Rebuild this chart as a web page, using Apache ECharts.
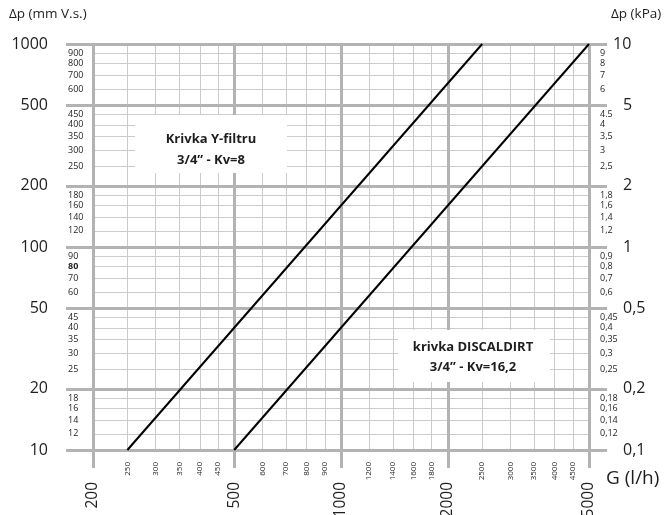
<!DOCTYPE html>
<html><head><meta charset="utf-8">
<script src="https://cdn.jsdelivr.net/npm/echarts@6/dist/echarts.min.js"></script>
<style>html,body{margin:0;padding:0;background:#fff}#c{width:670px;height:515px}</style>
</head><body><div id="c"></div>
<script>
// ---- data ----
const xMajor = [200, 500, 1000, 2000, 5000];
const xMinor = [250, 300, 350, 400, 450, 600, 700, 800, 900, 1200, 1400, 1600, 1800, 2500, 3000, 3500, 4000, 4500];
const yMajor = [10, 20, 50, 100, 200, 500, 1000];
const yMinor = [12, 14, 16, 18, 25, 30, 35, 40, 45, 60, 70, 80, 90, 120, 140, 160, 180, 250, 300, 350, 400, 450, 600, 700, 800, 900];
const kpaMajorLabels = ['0,1', '0,2', '0,5', '1', '2', '5', '10'];
const kpaMinorLabels = ['0,12', '0,14', '0,16', '0,18', '0,25', '0,3', '0,35', '0,4', '0,45', '0,6', '0,7', '0,8', '0,9', '1,2', '1,4', '1,6', '1,8', '2,5', '3', '3,5', '4', '4.5', '6', '7', '8', '9'];
const yFiltru = [[250, 10], [2500, 1000]];
const discaldirt = [[500, 10], [5000, 1000]];

// ---- styling ----
const FF = '"Open Sans", "Noto Sans", sans-serif';
const TXT = '#1e1e1e';
const THICK = '#b3b3b3';
const THIN = '#cbcbcb';
const key = v => Math.round(v * 100) / 100;
const kpaMajorMap = {}; yMajor.forEach((v, i) => kpaMajorMap[key(v)] = kpaMajorLabels[i]);
const kpaMinorMap = {}; yMinor.forEach((v, i) => kpaMinorMap[key(v)] = kpaMinorLabels[i]);
const topMajor = yMajor[yMajor.length - 1];
const yMajorRight = yMajor.filter(v => v !== topMajor);

const G = { left: 93, right: 81, top: 44, bottom: 65, containLabel: false, outerBoundsMode: 'none' };
const logX = { type: 'log', logBase: 10, min: 200, max: 5000 };
const logY = { type: 'log', logBase: 10, min: 10, max: 1000 };
const intFmt = v => String(Math.round(v));

const chart = echarts.init(document.getElementById('c'), null, { renderer: 'canvas' });
chart.setOption({
  animation: false,
  backgroundColor: '#fff',
  grid: [Object.assign({}, G), Object.assign({}, G), Object.assign({}, G)],
  xAxis: [
    Object.assign({}, logX, {
      gridIndex: 0, position: 'bottom', z: 1,
      axisLine: { show: false },
      axisTick: { show: false, customValues: xMinor },
      axisLabel: { customValues: xMinor, rotate: 90, fontSize: 8, margin: 12, color: TXT, fontFamily: FF, formatter: intFmt },
      splitLine: { show: true, lineStyle: { color: THIN, width: 1 } }
    }),
    Object.assign({}, logX, {
      gridIndex: 1, position: 'bottom', z: 2,
      axisLine: { show: false },
      axisTick: { show: true, customValues: xMajor, length: 18, lineStyle: { color: THICK, width: 3 } },
      axisLabel: { customValues: xMajor, rotate: 90, fontSize: 15.5, margin: 32, color: TXT, fontFamily: FF, formatter: intFmt },
      splitLine: { show: true, lineStyle: { color: THICK, width: 3 } }
    }),
    Object.assign({}, logX, {
      gridIndex: 2, position: 'bottom', show: false
    })
  ],
  yAxis: [
    Object.assign({}, logY, {
      gridIndex: 0, position: 'left', z: 1,
      axisLine: { show: false },
      axisTick: { show: false, customValues: yMinor },
      axisLabel: {
        customValues: yMinor, align: 'left', margin: 25, fontSize: 9, color: TXT, fontFamily: FF,
        formatter: v => key(v) === 80 ? '{b|80}' : String(key(v)),
        rich: { b: { fontWeight: 'bold', fontSize: 9, color: TXT, fontFamily: FF } }
      },
      splitLine: { show: true, lineStyle: { color: THIN, width: 1 } }
    }),
    Object.assign({}, logY, {
      gridIndex: 0, position: 'right', z: 1,
      axisLine: { show: false },
      axisTick: { show: false, customValues: yMinor },
      axisLabel: {
        customValues: yMinor, align: 'left', margin: 11, fontSize: 9, color: TXT, fontFamily: FF,
        formatter: v => kpaMinorMap[key(v)] || ''
      },
      splitLine: { show: false }
    }),
    Object.assign({}, logY, {
      gridIndex: 1, position: 'left', z: 2,
      axisLine: { show: false },
      axisTick: { show: true, customValues: yMajor, length: 27, lineStyle: { color: THICK, width: 3 } },
      axisLabel: { customValues: yMajor, align: 'right', margin: 45, fontSize: 16, color: TXT, fontFamily: FF,
        formatter: v => String(key(v)) },
      splitLine: { show: true, lineStyle: { color: THICK, width: 3 } }
    }),
    Object.assign({}, logY, {
      gridIndex: 1, position: 'right', z: 2,
      axisLine: { show: false },
      axisTick: { show: true, customValues: yMajor, length: 18, lineStyle: { color: THICK, width: 3 } },
      axisLabel: { customValues: yMajorRight, align: 'left', margin: 34, fontSize: 16, color: TXT, fontFamily: FF,
        formatter: v => kpaMajorMap[key(v)] || '' },
      splitLine: { show: false }
    }),
    Object.assign({}, logY, {
      gridIndex: 2, position: 'right', z: 2,
      axisLine: { show: false },
      axisTick: { show: false, customValues: [topMajor] },
      axisLabel: { customValues: [topMajor], align: 'left', margin: 24, fontSize: 16, color: TXT, fontFamily: FF,
        formatter: v => kpaMajorMap[key(v)] || '' },
      splitLine: { show: false }
    })
  ],
  series: [
    { name: 'Krivka Y-filtru', type: 'line', xAxisIndex: 0, yAxisIndex: 0, data: yFiltru, showSymbol: false,
      lineStyle: { color: '#000', width: 2 }, z: 10, silent: true },
    { name: 'krivka DISCALDIRT', type: 'line', xAxisIndex: 0, yAxisIndex: 0, data: discaldirt, showSymbol: false,
      lineStyle: { color: '#000', width: 2 }, z: 10, silent: true }
  ],
  graphic: [
    { type: 'text', left: 9, top: 7, z: 20, style: { text: 'Δp (mm V.s.)', fontSize: 13.5, fill: TXT, fontFamily: FF } },
    { type: 'text', left: 611, top: 7, z: 20, style: { text: 'Δp (kPa)', fontSize: 13.5, fill: TXT, fontFamily: FF } },
    { type: 'text', left: 606, top: 469, z: 20, style: { text: 'G (l/h)', fontSize: 19, fill: TXT, fontFamily: FF } },
    { type: 'rect', shape: { x: 135, y: 115, width: 152, height: 58 }, z: 15, style: { fill: '#fff' } },
    { type: 'text', x: 211, y: 139, z: 20, style: { text: 'Krivka Y-filtru', align: 'center', verticalAlign: 'middle', fontSize: 13, fontWeight: 'bold', fill: TXT, fontFamily: FF } },
    { type: 'text', x: 211, y: 160, z: 20, style: { text: '3/4” - Kv=8', align: 'center', verticalAlign: 'middle', fontSize: 13, fontWeight: 'bold', fill: TXT, fontFamily: FF } },
    { type: 'rect', shape: { x: 398, y: 330, width: 152, height: 52 }, z: 15, style: { fill: '#fff' } },
    { type: 'text', x: 473, y: 347, z: 20, style: { text: 'krivka DISCALDIRT', align: 'center', verticalAlign: 'middle', fontSize: 13, fontWeight: 'bold', fill: TXT, fontFamily: FF } },
    { type: 'text', x: 473, y: 367, z: 20, style: { text: '3/4” - Kv=16,2', align: 'center', verticalAlign: 'middle', fontSize: 13, fontWeight: 'bold', fill: TXT, fontFamily: FF } }
  ]
});
</script>
</body></html>
